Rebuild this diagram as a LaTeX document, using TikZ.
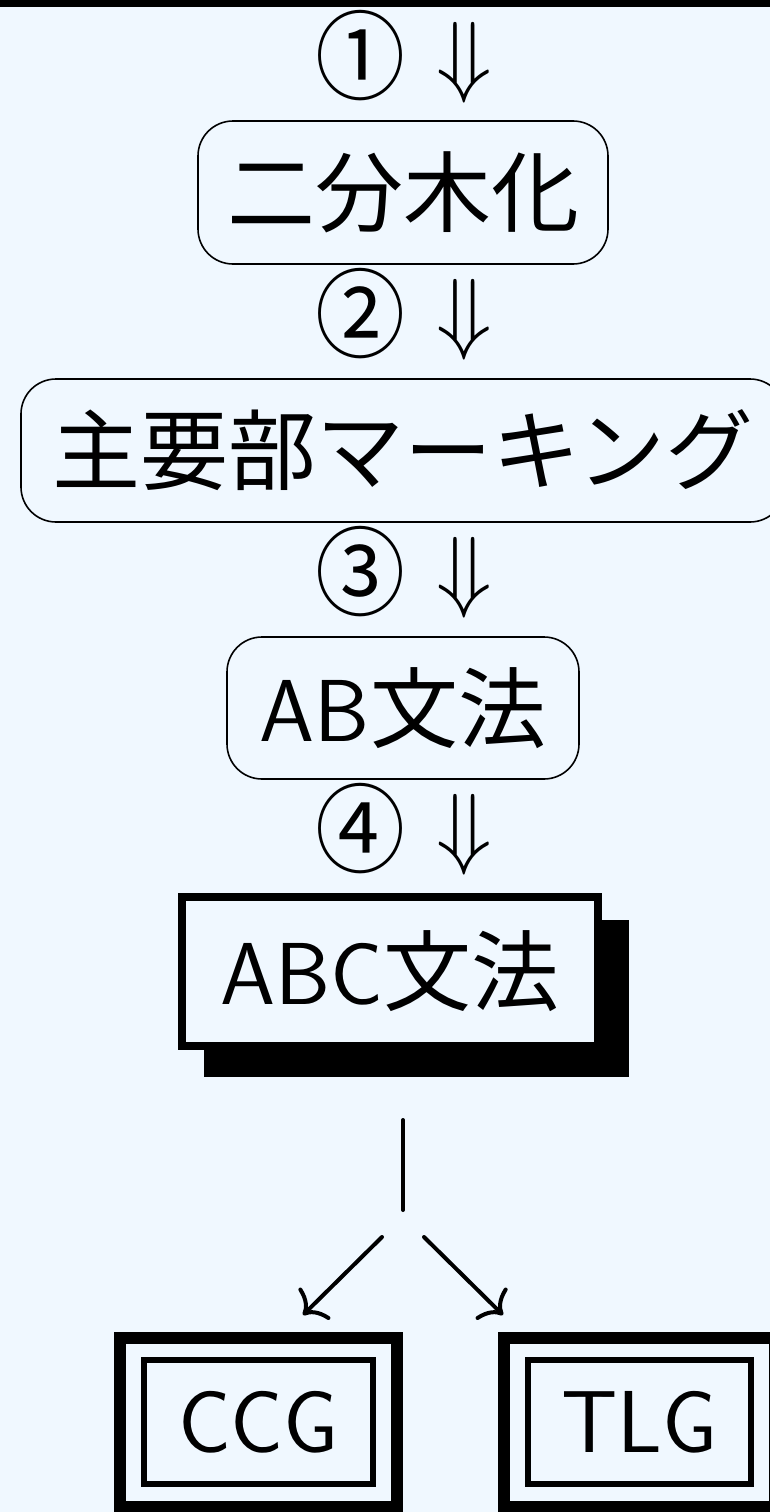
\RequirePackage{fix-cm}
\documentclass[tikz,border=0pt]{standalone}
\usepackage{fontspec}
\newfontfamily\jp{Noto Sans CJK JP}
\usetikzlibrary{arrows.meta}
\definecolor{bg}{RGB}{240,248,255}
\newcommand{\circnum}[1]{\scalebox{1}[1.08]{\jp #1}}
\begin{document}
\begin{tikzpicture}[x=1pt,y=-1pt,
  big/.style={font=\fontsize{88}{100}\selectfont},
  rbox/.style={draw, line width=1.6pt, rounded corners=35pt, inner sep=0pt, big},
  num/.style={font=\fontsize{90}{100}\selectfont, inner sep=0pt},
  darr/.style={font=\fontsize{91}{100}\selectfont, inner sep=0pt},
  sbox/.style={draw, line width=8pt, fill=bg, inner sep=0pt, big},
  dbox/.style={draw, line width=6pt, inner sep=0pt, big},
  frame/.style={line width=12pt},
  conn/.style={line width=4pt, line cap=round},
  arr/.style={conn, -{Computer Modern Rightarrow[length=18pt,width=44pt,line width=4pt]}}
]
\useasboundingbox (0,0) rectangle (770,1512);
\fill[bg] (0,0) rectangle (770,1512);
\fill[black] (0,0) rectangle (770,7.5);

% step 1
\node[num] (n1) at (360,56) {\circnum{①}};
\node[darr] (d1) at (464,63) {$\Downarrow$};
\node[rbox, minimum width=410, minimum height=143] (b1) at (403,192.5) {\jp 二分木化};
% step 2
\node[num] (n2) at (360,314) {\circnum{②}};
\node[darr] (d2) at (464,320) {$\Downarrow$};
\node[rbox, minimum width=764, minimum height=143] (b2) at (403,450.5) {\jp 主要部マーキング};
% step 3
\node[num] (n3) at (360,572) {\circnum{③}};
\node[darr] (d3) at (464,578) {$\Downarrow$};
\node[rbox, minimum width=352, minimum height=142] (b3) at (403,708) {{\sffamily AB}{\jp 文法}};
% step 4
\node[num] (n4) at (360,829) {\circnum{④}};
\node[darr] (d4) at (464,835) {$\Downarrow$};
\fill[black] (204,920) rectangle (629,1077);
\node[sbox, minimum width=416, minimum height=149] (abc) at (390,971.5) {{\sffamily ABC}{\jp 文法}};

% connectors
\coordinate (v1) at (403,1120);
\coordinate (v2) at (403,1210);
\coordinate (l1) at (382,1237);
\coordinate (l2) at (303,1315);
\coordinate (r1) at (424,1237);
\coordinate (r2) at (503,1315);
\draw[conn] (v1) -- (v2);
\draw[arr] (l1) -- (l2);
\draw[arr] (r1) -- (r2);

% targets
\node[dbox, minimum width=229, minimum height=124, font=\sffamily\fontsize{88}{100}\selectfont] (ccg) at (258.5,1422) {CCG};
\draw[frame] ([shift={(-21,-19)}]ccg.north west) rectangle ([shift={(21,20)}]ccg.south east);
\node[dbox, minimum width=223, minimum height=124, font=\sffamily\fontsize{88}{100}\selectfont] (tlg) at (639.5,1422) {TLG};
\draw[frame] ([shift={(-21,-19)}]tlg.north west) rectangle ([shift={(21,20)}]tlg.south east);
\end{tikzpicture}
\end{document}
